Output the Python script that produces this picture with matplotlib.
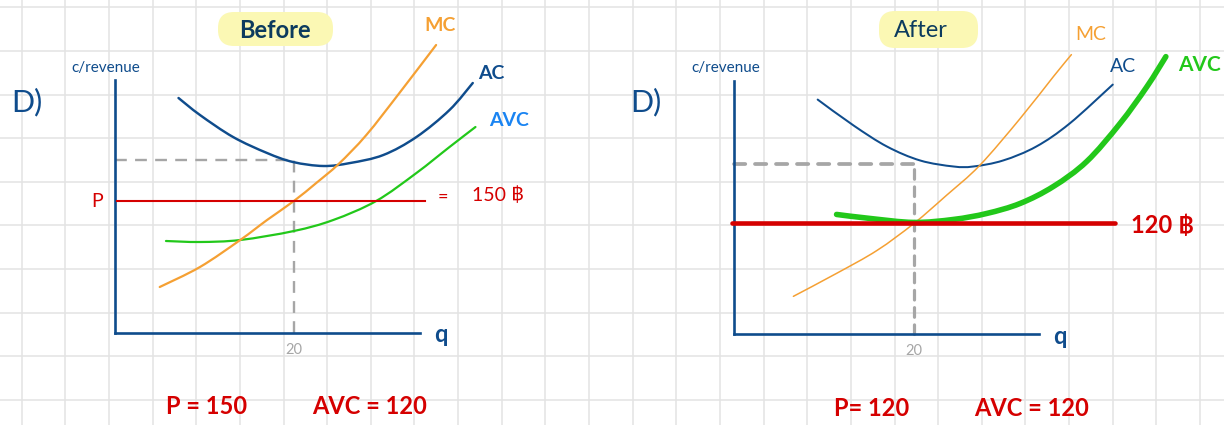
import matplotlib
matplotlib.use("Agg")
import matplotlib.pyplot as plt
from matplotlib.patches import FancyBboxPatch, PathPatch
from matplotlib.path import Path
from matplotlib import font_manager
from matplotlib.ft2font import FT2Font

# ---------------- data ----------------
# Left panel: "Before"
before_ac_q = [7.1, 9.5, 13.2, 17.0, 19.9, 23.3, 26.3, 30.0, 33.7, 37.4, 40.0]
before_ac_c = [253, 236, 214, 198, 189, 185, 188, 196, 214, 241, 268]
before_mc_q = [5.0, 9.5, 14.0, 17.0, 20.0, 22.5, 25.0, 28.1, 31.8, 35.9]
before_mc_c = [64, 84, 111, 131, 150, 168, 187, 216, 258, 306]
before_avc_q = [5.7, 9.5, 14.0, 20.0, 24.4, 29.2, 33.7, 37.4, 40.3]
before_avc_c = [110, 109, 111, 120, 131, 150, 178, 204, 224]
before_price = 150
before_price_q = [0.2, 34.7]
before_q_star = 20
before_ac_star = 191

# Right panel: "After"
after_ac_q = [9.3, 13.3, 17.0, 20.7, 24.4, 26.6, 29.9, 33.6, 37.3, 42.1]
after_ac_c = [244, 218, 197, 183, 177, 177, 183, 197, 220, 259]
after_mc_q = [6.6, 11.4, 15.9, 20.0, 23.6, 27.3, 31.8, 35.5, 37.5]
after_mc_c = [47, 70, 93, 120, 148, 178, 225, 267, 289]
after_avc_q = [11.4, 15.1, 20.0, 24.4, 28.1, 31.8, 35.5, 39.2, 42.9, 45.9, 48.0]
after_avc_c = [129, 125, 121, 124, 130, 140, 157, 182, 220, 257, 287]
after_price = 120
after_price_q = [-0.25, 42.4]
after_q_star = 20
after_ac_star = 180

q_tick_labels = ["20"]

# ---------------- styling ----------------
NAVY = "#0f4c8c"
ORANGE = "#f5a033"
GREEN = "#22c81a"
RED = "#d50000"
GRAY = "#a6a6a6"
LBLUE = "#1a84f2"
TITLE = "#0c3b5e"
HILITE = "#fbf8b4"


def has_glyph(name, ch):
    try:
        path = font_manager.findfont(font_manager.FontProperties(family=name),
                                     fallback_to_default=False)
        return FT2Font(path).get_char_index(ord(ch)) != 0
    except Exception:
        return False


BASE = "Lato"
cands = ["Lato", "DejaVu Sans", "Noto Sans", "Liberation Sans", "Open Sans",
         "Roboto", "Inter", "Noto Sans CJK SC", "Noto Sans CJK JP"]
baht_fonts = [f for f in cands if has_glyph(f, "\u0e3f")]
FAM = [BASE] + [f for f in baht_fonts if f != BASE] + ["DejaVu Sans"]
plt.rcParams["font.family"] = FAM

W, H = 1224, 425
fig = plt.figure(figsize=(W / 100, H / 100), dpi=100)
fig.patch.set_facecolor("white")

# background graph-paper grid
bg = fig.add_axes([0, 0, 1, 1])
bg.set_xlim(0, W)
bg.set_ylim(H, 0)
bg.set_xticks([21.7 + 43.64 * k for k in range(28)])
bg.set_yticks([399.7 - 43.6 * k for k in range(10)])
bg.grid(True, color="#e3e3e3", lw=1.1)
bg.tick_params(length=0, labelbottom=False, labelleft=False)
for s in bg.spines.values():
    s.set_visible(False)
bg.set_axisbelow(True)


def panel(px0, px1, py_top, py_bot, xlim, ylim):
    ax = fig.add_axes([px0 / W, 1 - py_bot / H, (px1 - px0) / W, (py_bot - py_top) / H])
    ax.set_xlim(xlim)
    ax.set_ylim(ylim)
    ax.patch.set_alpha(0)
    for s in ["top", "right"]:
        ax.spines[s].set_visible(False)
    for s in ["left", "bottom"]:
        ax.spines[s].set_color(NAVY)
        ax.spines[s].set_linewidth(1.9)
    ax.set_yticks([])
    return ax


def curve(ax, q, c, color, lw, z=3):
    """Draw a smooth line through the read points (Bezier rendering in data space)."""
    pts = list(zip(q, c))
    n = len(pts)
    verts = [pts[0]]
    codes = [Path.MOVETO]
    for i in range(n - 1):
        p0 = pts[i - 1] if i > 0 else pts[i]
        p1 = pts[i]
        p2 = pts[i + 1]
        p3 = pts[i + 2] if i + 2 < n else pts[i + 1]
        c1 = (p1[0] + (p2[0] - p0[0]) / 6, p1[1] + (p2[1] - p0[1]) / 6)
        c2 = (p2[0] - (p3[0] - p1[0]) / 6, p2[1] - (p3[1] - p1[1]) / 6)
        verts += [c1, c2, p2]
        codes += [Path.CURVE4] * 3
    patch = PathPatch(Path(verts, codes), fill=False, edgecolor=color, lw=lw,
                      capstyle="round", joinstyle="round", clip_on=False, zorder=z)
    ax.add_patch(patch)


# ---------- left panel ----------
axL = panel(115, 420, 80, 333, (0, 34.1), (18, 271))
axL.set_xticks([before_q_star], q_tick_labels)
axL.tick_params(axis="x", length=0, pad=7, labelsize=10.5, labelcolor=GRAY)
axL.plot([0, before_q_star], [before_ac_star, before_ac_star], color=GRAY, lw=1.7,
         ls=(0, (5, 3.5)), clip_on=False, zorder=2)
axL.plot([before_q_star, before_q_star], [18, before_ac_star], color=GRAY, lw=1.7,
         ls=(0, (5, 3.5)), clip_on=False, zorder=2)
curve(axL, before_ac_q, before_ac_c, NAVY, 1.75)
curve(axL, before_avc_q, before_avc_c, GREEN, 1.6)
curve(axL, before_mc_q, before_mc_c, ORANGE, 1.6)
axL.plot(before_price_q, [before_price, before_price], color=RED, lw=1.5,
         clip_on=False, zorder=4)

# ---------- right panel ----------
axR = panel(734, 1039, 81, 334, (0, 33.9), (9.3, 262.6))
axR.set_xticks([after_q_star], q_tick_labels)
axR.tick_params(axis="x", length=0, pad=7, labelsize=10.5, labelcolor=GRAY)
axR.plot([0, after_q_star], [after_ac_star, after_ac_star], color=GRAY, lw=2.7,
         ls=(0, (3, 2.6)), solid_capstyle="round", dash_capstyle="round",
         clip_on=False, zorder=2)
axR.plot([after_q_star, after_q_star], [9.3, after_ac_star], color=GRAY, lw=2.3,
         ls=(0, (3, 2.4)), dash_capstyle="round", clip_on=False, zorder=2)
curve(axR, after_ac_q, after_ac_c, NAVY, 1.45)
curve(axR, after_mc_q, after_mc_c, ORANGE, 1.1)
curve(axR, after_avc_q, after_avc_c, GREEN, 4.0, z=4)
axR.plot(after_price_q, [after_price, after_price], color=RED, lw=3.3,
         solid_capstyle="round", clip_on=False, zorder=5)


# ---------- annotations (pixel positions on the page) ----------
def T(x, y, s, color, size, weight="normal", ha="center", **kw):
    bg.text(x, y, s, color=color, fontsize=size, fontweight=weight, ha=ha,
            va="center", zorder=6, **kw)


# highlight boxes
bg.add_patch(FancyBboxPatch((218, 12), 115, 34, boxstyle="round,pad=0,rounding_size=16",
                            fc=HILITE, ec="none", zorder=1.5))
bg.add_patch(FancyBboxPatch((879, 11), 99, 37, boxstyle="round,pad=0,rounding_size=16",
                            fc=HILITE, ec="none", zorder=1.5))

# left
T(27, 102, "D)", NAVY, 22)
T(106, 68, "c/revenue", NAVY, 11)
T(275, 30, "Before", TITLE, 17, "bold")
T(440, 25, "MC", ORANGE, 14, "bold")
T(491, 73, "AC", NAVY, 14, "bold")
T(509, 120, "AVC", LBLUE, 14, "bold")
T(97, 201, "P", RED, 14)
T(443, 197, "=", RED, 13)
T(472, 195, "150 \u0e3f", RED, 14, ha="left")
T(441, 335, "q", NAVY, 17, "bold")
T(207, 407, "P = 150", RED, 17, "bold")
T(370, 407, "AVC = 120", RED, 17, "bold")

# right
T(646, 102, "D)", NAVY, 22)
T(726, 68, "c/revenue", NAVY, 11)
T(921, 30, "After", TITLE, 17)
T(1091, 34, "MC", ORANGE, 14)
T(1123, 66, "AC", NAVY, 14)
T(1178, 65, "AVC", GREEN, 15, "bold", ha="left")
T(1131, 225, "120 \u0e3f", RED, 17, "bold", ha="left")
T(1060, 336, "q", NAVY, 17, "bold")
T(872, 409, "P= 120", RED, 17, "bold")
T(1032, 409, "AVC = 120", RED, 17, "bold")

fig.savefig("out.png", dpi=100, facecolor="white")
